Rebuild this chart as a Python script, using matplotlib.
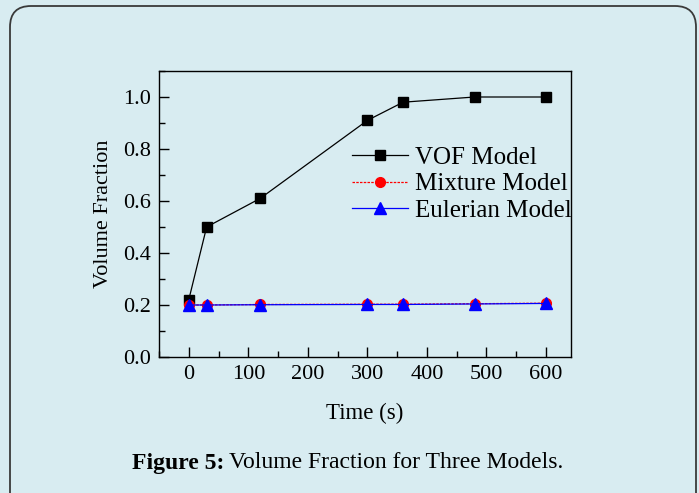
import matplotlib
matplotlib.use("Agg")
import matplotlib.pyplot as plt
from matplotlib.patches import FancyBboxPatch
from matplotlib.ticker import MultipleLocator

time = [0, 30, 120, 300, 360, 480, 600]
vof = [0.22, 0.50, 0.61, 0.91, 0.98, 1.00, 1.00]
mixture = [0.200, 0.200, 0.202, 0.203, 0.203, 0.205, 0.207]
eulerian = [0.200, 0.200, 0.201, 0.202, 0.202, 0.204, 0.206]

bg = "#d8ecf1"
plt.rcParams['font.family'] = ['Liberation Serif', 'DejaVu Serif']

fig = plt.figure(figsize=(6.99, 4.93), dpi=100)
fig.patch.set_facecolor(bg)

box = FancyBboxPatch((10/699, -0.05), 686/699, (493-6)/493 + 0.05,
                     boxstyle="round,pad=0,rounding_size=0.03",
                     transform=fig.transFigure, facecolor=bg,
                     edgecolor="#3a3a3a", linewidth=1.3, mutation_aspect=699/493,
                     zorder=-10)
fig.patches.append(box)

ax = fig.add_axes([159/699, 1-357/493, (571-159)/699, (357-71)/493])
ax.set_zorder(5)
ax.patch.set_alpha(0)

ax.plot(time, vof, color="black", lw=0.9, marker="s", ms=6.5, label="VOF Model")
ax.plot(time, mixture, color="red", lw=0.9, ls="--", dashes=(2, 1), marker="o", ms=7,
        label="Mixture Model")
ax.plot(time, eulerian, color="blue", lw=0.9, marker="^", ms=8, label="Eulerian Model")

ax.set_xlim(-50, 642)
ax.set_ylim(0, 1.1)
ax.xaxis.set_major_locator(MultipleLocator(100))
ax.xaxis.set_minor_locator(MultipleLocator(50))
ax.yaxis.set_minor_locator(MultipleLocator(0.1))
ax.tick_params(which="both", direction="in", labelsize=16, top=False, right=False,
               width=1.0)
ax.tick_params(which="major", length=7, pad=6)
ax.tick_params(which="minor", length=4)
ax.set_yticks([0, 0.2, 0.4, 0.6, 0.8, 1.0])
ax.set_yticklabels(["0.0", "0.2", "0.4", "0.6", "0.8", "1.0"])
ax.set_xlabel("Time (s)", fontsize=16.5, labelpad=13)
ax.set_ylabel("Volume Fraction", fontsize=16, labelpad=7)
for s in ax.spines.values():
    s.set_linewidth(1.0)

leg = ax.legend(loc="upper left", bbox_to_anchor=(0.468, 0.736), frameon=False,
                fontsize=18, handlelength=2.24, handletextpad=0.28, labelspacing=0.15,
                borderaxespad=0, borderpad=0)

fig.canvas.draw()
r = fig.canvas.get_renderer()
ycap = 1 - 463/493
t1 = fig.text(132/699, ycap, "Figure 5:", fontsize=17, fontweight="bold",
              ha="left", va="center")
bb = t1.get_window_extent(renderer=r)
fig.text((bb.x1 + 5)/699, ycap, "Volume Fraction for Three Models.", fontsize=17,
         ha="left", va="center")

fig.savefig("out.png", dpi=100, facecolor=bg)
